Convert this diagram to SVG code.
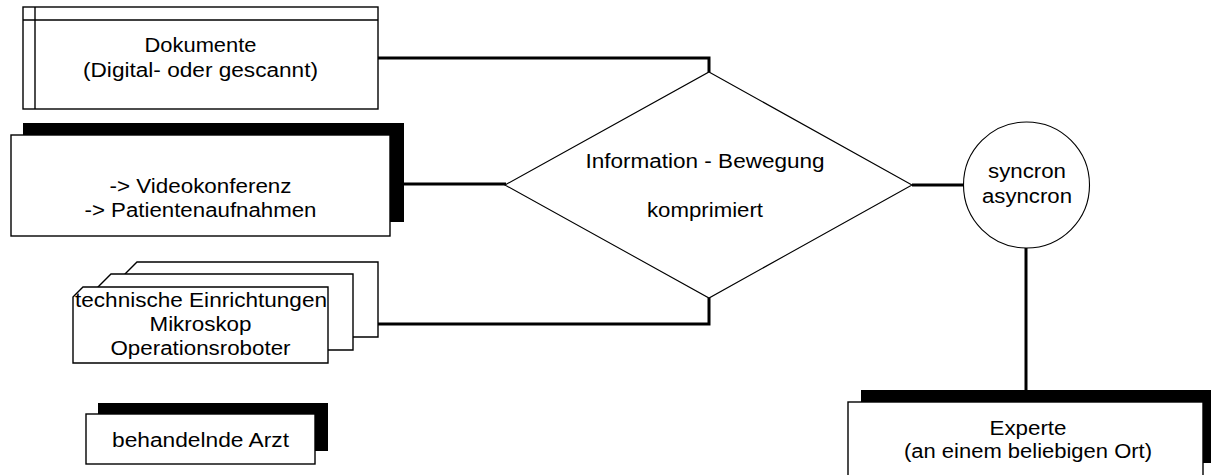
<svg xmlns="http://www.w3.org/2000/svg" width="1211" height="475" viewBox="0 0 1211 475">
  <style>
    text { font-family: "Liberation Sans", Arial, sans-serif; font-size: 20px; fill: #000; text-anchor: middle; }
    .box { fill: #fff; stroke: #000; stroke-width: 1.4; }
    .shadow { fill: #000; stroke: none; }
    .thin { fill: #fff; stroke: #000; stroke-width: 1.1; }
    .conn { fill: none; stroke: #000; stroke-width: 3; }
  </style>
  <defs>
    <clipPath id="clipFront">
      <polygon points="73,297 83,287 328,287 328,363 73,363"/>
    </clipPath>
  </defs>
  <rect width="1211" height="475" fill="#fff"/>

  <!-- connectors -->
  <g id="connectors">
    <path class="conn" d="M378,58 H709 V72"/>
    <path class="conn" d="M404,184 H506"/>
    <path class="conn" d="M378,324 H709 V298"/>
    <path class="conn" d="M912,185 H963"/>
    <path class="conn" d="M1026,248 V390"/>
  </g>

  <!-- document store -->
  <g id="dokumente">
    <rect class="box" x="23" y="7" width="355" height="102"/>
    <line x1="35" y1="7" x2="35" y2="109" stroke="#000" stroke-width="1.4"/>
    <line x1="23" y1="20" x2="378" y2="20" stroke="#000" stroke-width="1.4"/>
    <text x="200.5" y="52" textLength="112" lengthAdjust="spacingAndGlyphs">Dokumente</text>
    <text x="200.5" y="77" textLength="235" lengthAdjust="spacingAndGlyphs">(Digital- oder gescannt)</text>
  </g>

  <!-- video box with shadow -->
  <g id="video">
    <rect class="shadow" x="23" y="123" width="381" height="99"/>
    <rect class="box" x="11" y="135" width="379" height="101"/>
    <text x="200.5" y="193" textLength="182" lengthAdjust="spacingAndGlyphs">-&gt; Videokonferenz</text>
    <text x="200.5" y="217" textLength="232" lengthAdjust="spacingAndGlyphs">-&gt; Patientenaufnahmen</text>
  </g>

  <!-- stacked technical devices -->
  <g id="technik">
    <polygon class="box" points="125,274 137,262 378,262 378,337 125,337"/>
    <polygon class="box" points="98,287 111,274 353,274 353,350 98,350"/>
    <polygon class="box" points="73,297 83,287 328,287 328,363 73,363"/>
    <g clip-path="url(#clipFront)">
      <text x="201" y="307" textLength="252" lengthAdjust="spacingAndGlyphs">technische Einrichtungen</text>
    </g>
    <text x="200.5" y="331" textLength="102" lengthAdjust="spacingAndGlyphs">Mikroskop</text>
    <text x="200.5" y="355" textLength="180" lengthAdjust="spacingAndGlyphs">Operationsroboter</text>
  </g>

  <!-- treating doctor -->
  <g id="arzt">
    <rect class="shadow" x="98" y="403" width="230" height="48"/>
    <rect class="box" x="86" y="414" width="229" height="50"/>
    <text x="200.5" y="447" textLength="177" lengthAdjust="spacingAndGlyphs">behandelnde Arzt</text>
  </g>

  <!-- decision diamond -->
  <g id="information">
    <polygon class="thin" points="709,72 912,185 709,298 505,185"/>
    <text x="705" y="168" textLength="239" lengthAdjust="spacingAndGlyphs">Information - Bewegung</text>
    <text x="705" y="217" textLength="116" lengthAdjust="spacingAndGlyphs">komprimiert</text>
  </g>

  <!-- sync circle -->
  <g id="sync">
    <circle class="thin" cx="1026.5" cy="185" r="63"/>
    <text x="1027" y="178" textLength="78" lengthAdjust="spacingAndGlyphs">syncron</text>
    <text x="1027" y="203" textLength="90" lengthAdjust="spacingAndGlyphs">asyncron</text>
  </g>

  <!-- remote expert -->
  <g id="experte">
    <rect class="shadow" x="861" y="390" width="360" height="73"/>
    <rect class="box" x="848" y="402" width="355" height="80"/>
    <text x="1028" y="435" textLength="77" lengthAdjust="spacingAndGlyphs">Experte</text>
    <text x="1028" y="458" textLength="248" lengthAdjust="spacingAndGlyphs">(an einem beliebigen Ort)</text>
  </g>
</svg>
